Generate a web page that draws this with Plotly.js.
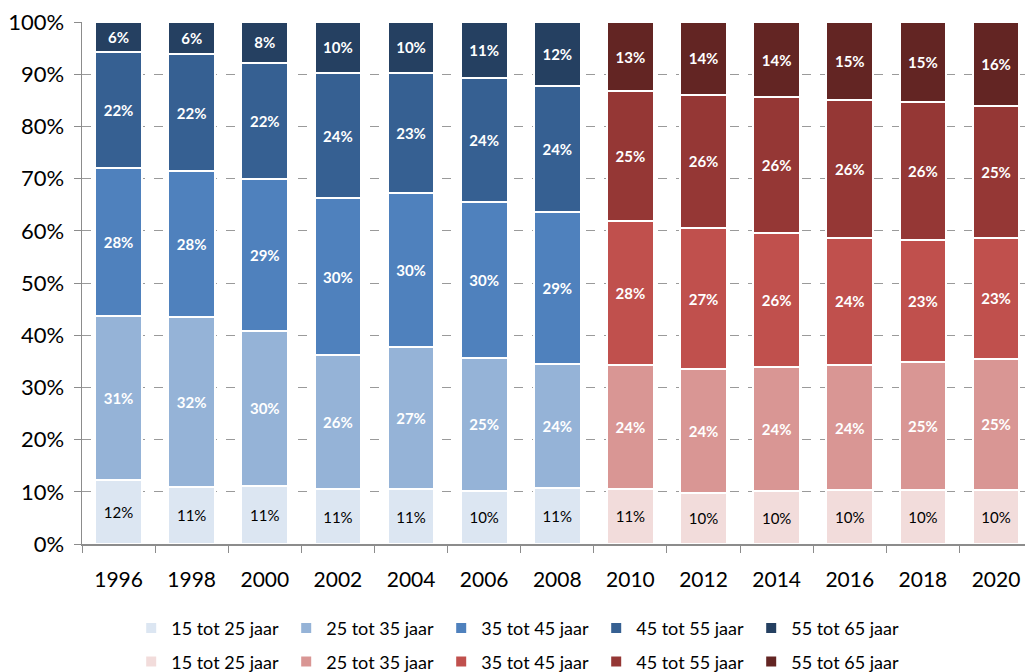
<!DOCTYPE html>
<html>
<head>
<meta charset="utf-8">
<script src="https://cdn.plot.ly/plotly-3.0.1.min.js"></script>
<style>html,body{margin:0;padding:0;background:#fff;}#chart{width:1025px;height:672px;}</style>
</head>
<body>
<div id="chart"></div>
<script>
const years = ['1996','1998','2000','2002','2004','2006','2008','2010','2012','2014','2016','2018','2020'];
const yearsBlue = ['1996','1998','2000','2002','2004','2006','2008'];
const yearsRed = ['2010','2012','2014','2016','2018','2020'];
const ageGroups = ['15 tot 25 jaar','25 tot 35 jaar','35 tot 45 jaar','45 tot 55 jaar','55 tot 65 jaar'];

const blue15 = [12.3, 11.0, 11.2, 10.5, 10.5, 10.2, 10.8];
const blue25 = [31.4, 32.4, 29.6, 25.7, 27.2, 25.4, 23.7];
const blue35 = [28.4, 28.0, 29.2, 30.0, 29.6, 29.9, 29.1];
const blue45 = [22.1, 22.4, 22.2, 24.1, 23.0, 23.7, 24.1];
const blue55 = [5.8, 6.2, 7.8, 9.7, 9.7, 10.8, 12.3];

const red15 = [10.6, 9.8, 10.1, 10.3, 10.3, 10.4];
const red25 = [23.6, 23.7, 23.8, 24.0, 24.6, 25.1];
const red35 = [27.7, 27.0, 25.7, 24.4, 23.4, 23.1];
const red45 = [24.8, 25.6, 26.0, 26.4, 26.3, 25.3];
const red55 = [13.3, 13.9, 14.4, 14.9, 15.4, 16.1];

const blueColors = ['#dce6f2','#95b3d7','#4f81bd','#366092','#254061'];
const redColors = ['#f2dcdb','#d99694','#c0504d','#953735','#632523'];

const FONT = 'Lato, "Open Sans", sans-serif';

function mk(x, y, name, color, legend, dark) {
  return {
    type: 'bar', x: x, y: y, name: name, legend: legend,
    marker: {color: color, line: {color: '#ffffff', width: 2}},
    texttemplate: '%{y:.0f}%', textposition: 'inside', insidetextanchor: 'middle',
    textangle: 0,
    textfont: {family: FONT, size: 15, color: dark ? '#000000' : '#ffffff', weight: dark ? 'normal' : 'bold'},
    hoverinfo: 'skip'
  };
}

const blueSeries = [blue15, blue25, blue35, blue45, blue55];
const redSeries = [red15, red25, red35, red45, red55];
const traces = [];
blueSeries.forEach((s, i) => traces.push(mk(yearsBlue, s, ageGroups[i], blueColors[i], 'legend', i === 0)));
redSeries.forEach((s, i) => traces.push(mk(yearsRed, s, ageGroups[i], redColors[i], 'legend2', i === 0)));

const legendCommon = {
  orientation: 'h', xanchor: 'left', yanchor: 'middle', x: 0.128, xref: 'container', yref: 'container',
  font: {family: FONT, size: 18, color: '#000'},
  bgcolor: 'rgba(0,0,0,0)', traceorder: 'normal',
  entrywidth: 110, entrywidthmode: 'pixels', itemclick: false
};

const layout = {
  width: 1025, height: 672,
  margin: {l: 82, r: 0, t: 22, b: 128},
  paper_bgcolor: '#ffffff', plot_bgcolor: '#ffffff',
  barmode: 'stack', bargap: 0.36,
  font: {family: FONT, color: '#000'},
  xaxis: {
    type: 'category', categoryorder: 'array', categoryarray: years,
    range: [-0.5, 12.396], tickson: 'boundaries',
    ticks: 'outside', ticklen: 7, tickcolor: '#8c8c8c',
    showline: true, linecolor: '#8c8c8c', linewidth: 1.5,
    showgrid: false, tickfont: {family: FONT, size: 21, color: '#000'},
    ticklabelstandoff: 16,
    fixedrange: true
  },
  yaxis: {
    range: [0, 100], tickvals: [0,10,20,30,40,50,60,70,80,90,100],
    ticktext: ['0%','10%','20%','30%','40%','50%','60%','70%','80%','90%','100%'],
    ticks: 'outside', ticklen: 7, tickcolor: '#8c8c8c',
    showline: true, linecolor: '#8c8c8c', linewidth: 1.5,
    showgrid: true, gridcolor: '#9a9a9a', griddash: 'dash', gridwidth: 1,
    zeroline: false, tickfont: {family: FONT, size: 22, color: '#000'},
    ticklabelstandoff: 5,
    fixedrange: true
  },
  showlegend: true,
  legend: Object.assign({}, legendCommon, {y: 0.065}),
  legend2: Object.assign({}, legendCommon, {y: 0.015})
};

Plotly.newPlot('chart', traces, layout, {displayModeBar: false, staticPlot: true});
</script>
</body>
</html>
